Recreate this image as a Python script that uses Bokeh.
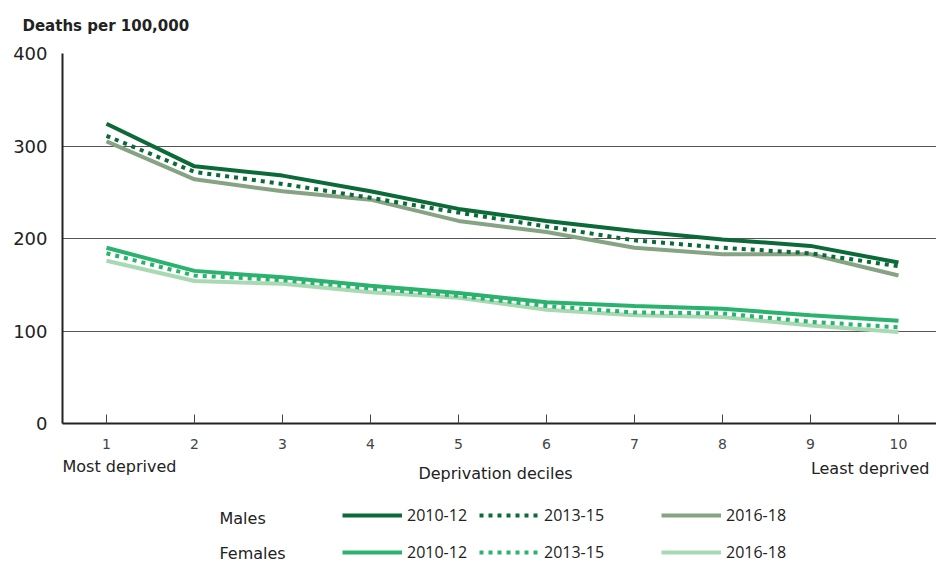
from bokeh.plotting import figure
from bokeh.models import (Range1d, FixedTicker, Label, Legend, LegendItem, ColumnDataSource)
from bokeh.layouts import column
from bokeh.embed import file_html
from bokeh.resources import INLINE

deciles = [1, 2, 3, 4, 5, 6, 7, 8, 9, 10]
males_2010_12 = [324, 278, 268, 251, 232, 219, 208, 199, 192, 174]
males_2013_15 = [311, 272, 259, 244, 228, 213, 198, 190, 184, 170]
males_2016_18 = [305, 264, 251, 242, 219, 207, 190, 183, 183, 160]
females_2010_12 = [190, 165, 158, 149, 141, 131, 127, 124, 117, 111]
females_2013_15 = [184, 160, 155, 146, 138, 127, 120, 119, 110, 104]
females_2016_18 = [176, 154, 151, 142, 136, 123, 117, 115, 106, 99]
periods = ["2010-12", "2013-15", "2016-18"]
y_ticks = [0, 100, 200, 300, 400]

FONT = "DejaVu Sans"
NUMFONT = "Open Sans"
TXT = "#222222"

W = 936
H1 = 455
H2 = 107
OFF = 63  # lower panel frame is aligned with the chart frame

p = figure(width=W, height=H1, output_backend="svg", toolbar_location=None,
           x_range=Range1d(0.5, 0.5 + 874 / 88.0), y_range=Range1d(0, 400),
           min_border_left=62, min_border_right=0, min_border_top=53,
           min_border_bottom=32)
p.outline_line_color = None
p.background_fill_color = "white"
p.border_fill_color = "white"

p.title.text = "Deaths per 100,000"
p.title.align = "left"
p.title.vertical_align = "top"
p.title.offset = -40
p.title.standoff = 33
p.title.text_font = FONT
p.title.text_font_size = "15px"
p.title.text_font_style = "bold"
p.title.text_color = TXT

# axes
p.xaxis.ticker = FixedTicker(ticks=deciles)
p.xaxis.major_tick_in = 9
p.xaxis.major_tick_out = 0
p.xaxis.major_tick_line_color = "#444444"
p.xaxis.minor_tick_line_color = None
p.xaxis.axis_line_color = "#222222"
p.xaxis.axis_line_width = 2
p.xaxis.major_label_text_font = FONT
p.xaxis.major_label_text_font_size = "14px"
p.xaxis.major_label_text_color = "#444444"
p.xaxis.major_label_standoff = 15

p.yaxis.ticker = FixedTicker(ticks=y_ticks)
p.yaxis.major_tick_in = 0
p.yaxis.major_tick_out = 0
p.yaxis.minor_tick_line_color = None
p.yaxis.axis_line_color = "#222222"
p.yaxis.axis_line_width = 2
p.yaxis.major_label_text_font = FONT
p.yaxis.major_label_text_font_size = "18px"
p.yaxis.major_label_text_color = TXT
p.yaxis.major_label_standoff = 15

p.xgrid.grid_line_color = None
p.ygrid.ticker = FixedTicker(ticks=[100, 200, 300, 400])
p.ygrid.grid_line_color = "#555555"
p.ygrid.grid_line_width = 1

DARK = "#0b6a38"
GREYG = "#86a384"
MID = "#2bb26f"
LIGHT = "#a8d9b3"
DASH = "4 5"

src = ColumnDataSource(dict(x=deciles,
                            m10=males_2010_12, m13=males_2013_15, m16=males_2016_18,
                            f10=females_2010_12, f13=females_2013_15, f16=females_2016_18))

styles = [("m16", GREYG, "solid"), ("m13", DARK, DASH), ("m10", DARK, "solid"),
          ("f16", LIGHT, "solid"), ("f13", MID, DASH), ("f10", MID, "solid")]
for key, col, dash in styles:
    p.line("x", key, source=src, line_color=col, line_width=4, line_dash=dash)

# lower panel: x-axis captions and legend
p2 = figure(width=W, height=H2, output_backend="svg", toolbar_location=None,
            x_range=Range1d(100, 200), y_range=Range1d(1000, 2000),
            x_axis_location=None, y_axis_location=None,
            min_border_left=0, min_border_right=0, min_border_top=0,
            min_border_bottom=0)
p2.grid.visible = False
p2.outline_line_color = None
p2.background_fill_color = "white"
p2.border_fill_color = "white"

proxy = {}
for key, col, dash in styles:
    proxy[key] = p2.line("x", key, source=src, line_color=col, line_width=4, line_dash=dash)

pairs = [("m10", "f10"), ("m13", "f13"), ("m16", "f16")]
xs = [343, 480, 662]
for (km, kf), per, lx in zip(pairs, periods, xs):
    lg = Legend(items=[LegendItem(label=per, renderers=[proxy[km]]),
                       LegendItem(label=per, renderers=[proxy[kf]])],
                location=(lx - OFF, -1), orientation="vertical",
                glyph_width=60, glyph_height=16, label_height=16,
                label_standoff=5, spacing=15, padding=0, margin=0,
                border_line_alpha=0, background_fill_alpha=0,
                label_text_font=NUMFONT, label_text_font_size="16px",
                label_text_color=TXT)
    p2.add_layout(lg, "center")

def lab(x, y, text, align="left"):
    p2.add_layout(Label(x=max(x - OFF, 0), y=H2 - y, x_units="screen", y_units="screen",
                        text=text, text_font=FONT, text_font_size="16px", text_color=TXT,
                        text_baseline="middle", text_align=align))

lab(58, 11, "Most deprived")
lab(496, 18, "Deprivation deciles", "center")
lab(930, 13, "Least deprived", "right")
lab(220, 63, "Males")
lab(220, 98, "Females")

layout = column(p, p2, spacing=0)
open("out.html", "w").write(file_html(layout, INLINE))
